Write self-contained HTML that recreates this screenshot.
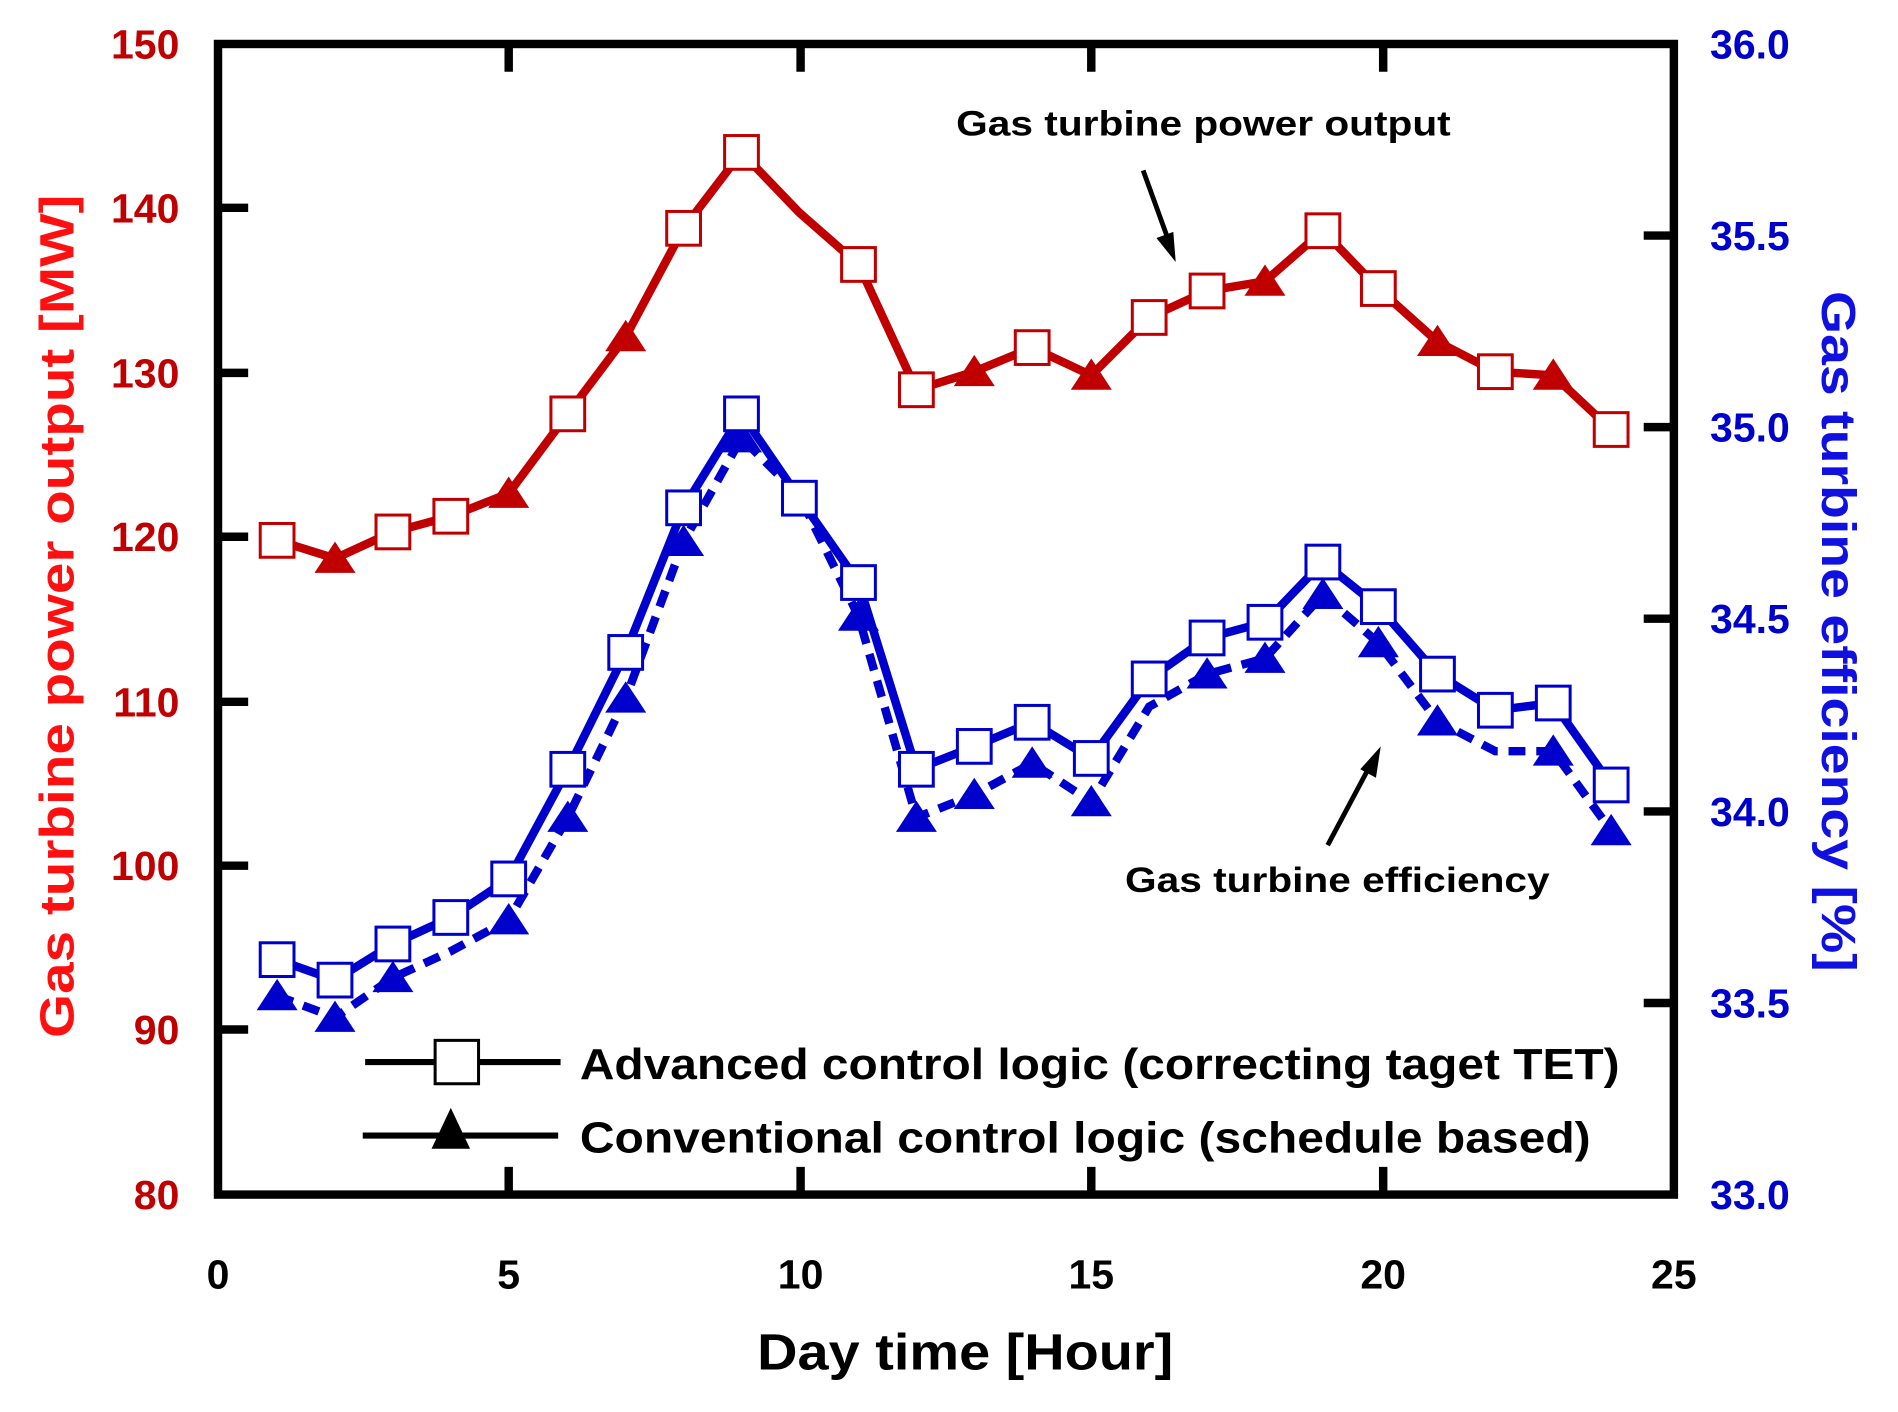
<!DOCTYPE html>
<html><head><meta charset="utf-8"><style>
html,body{margin:0;padding:0;background:#fff;}
svg{display:block;}
text{font-family:"Liberation Sans Narrow","Liberation Sans",sans-serif;font-weight:bold;}
</style></head><body>
<svg width="1898" height="1412" viewBox="0 0 1554 1156" preserveAspectRatio="none" xmlns="http://www.w3.org/2000/svg">
<rect width="1554" height="1156" fill="#fff"/>
<g transform="translate(2.71,1.48) scale(0.98757,0.98639)">
<rect x="178" y="35" width="1207" height="955" fill="none" stroke="#000" stroke-width="7"/>
<g stroke="#000" stroke-width="7">
<line x1="178" y1="171" x2="203" y2="171"/><line x1="178" y1="308" x2="203" y2="308"/>
<line x1="178" y1="444" x2="203" y2="444"/><line x1="178" y1="581" x2="203" y2="581"/>
<line x1="178" y1="717" x2="203" y2="717"/><line x1="178" y1="853" x2="203" y2="853"/>
<line x1="1360" y1="194" x2="1385" y2="194"/><line x1="1360" y1="353" x2="1385" y2="353"/>
<line x1="1360" y1="512" x2="1385" y2="512"/><line x1="1360" y1="672" x2="1385" y2="672"/>
<line x1="1360" y1="831" x2="1385" y2="831"/>
<line x1="419" y1="35" x2="419" y2="58"/><line x1="661" y1="35" x2="661" y2="58"/>
<line x1="902" y1="35" x2="902" y2="58"/><line x1="1144" y1="35" x2="1144" y2="58"/>
<line x1="419" y1="990" x2="419" y2="967"/><line x1="661" y1="990" x2="661" y2="967"/>
<line x1="902" y1="990" x2="902" y2="967"/><line x1="1144" y1="990" x2="1144" y2="967"/>
</g>
<g fill="#c00000" font-size="34" text-anchor="end">
<text x="146" y="47">150</text><text x="146" y="183">140</text><text x="146" y="320">130</text>
<text x="146" y="456">120</text><text x="146" y="593">110</text><text x="146" y="729">100</text>
<text x="146" y="865">90</text><text x="146" y="1002">80</text>
</g>
<g fill="#0000cc" font-size="34">
<text x="1415" y="47">36.0</text><text x="1415" y="206">35.5</text><text x="1415" y="365">35.0</text>
<text x="1415" y="524">34.5</text><text x="1415" y="684">34.0</text><text x="1415" y="843">33.5</text>
<text x="1415" y="1002">33.0</text>
</g>
<g fill="#000" font-size="34" text-anchor="middle">
<text x="178" y="1068">0</text><text x="419" y="1068">5</text><text x="661" y="1068">10</text>
<text x="902" y="1068">15</text><text x="1144" y="1068">20</text><text x="1385" y="1068">25</text>
</g>
<text x="625" y="1135" font-size="42" fill="#000" textLength="345" lengthAdjust="spacingAndGlyphs">Day time [Hour]</text>
<text transform="translate(58,860) rotate(-90)" font-size="40" fill="#ff1010" textLength="700" lengthAdjust="spacingAndGlyphs" style="font-family:'Liberation Sans',sans-serif">Gas turbine power output [MW]</text>
<text transform="translate(1508,240) rotate(90)" font-size="40" fill="#1010e0" textLength="565" lengthAdjust="spacingAndGlyphs" style="font-family:'Liberation Sans',sans-serif">Gas turbine efficiency [%]</text>

<polyline fill="none" stroke="#c00000" stroke-width="7" points="227,447 275,462 323,440 371,427 419,408 468,342 516,278 564,188 612,125 660,175 709,218 757,322 805,307 853,287 902,310 950,262 998,240 1046,232 1094,190 1140,238 1189,282 1237,307 1285,310 1333,355"/>
<polyline fill="none" stroke="#0000cc" stroke-width="7" points="227,795 275,812 323,782 371,760 419,728 468,637 516,540 564,420 612,342 660,412 709,482 757,637 805,618 853,598 902,628 950,562 998,528 1046,515 1094,465 1140,502 1189,558 1237,588 1285,582 1333,650"/>
<polyline fill="none" stroke="#0000cc" stroke-width="7" stroke-dasharray="14,9" points="227,825 275,843 323,810 371,788 419,762 468,677 516,578 564,448 612,362 660,410 709,510 757,677 805,658 853,632 902,664 950,585 998,558 1046,545 1094,492 1140,532 1189,597 1237,622 1285,622 1333,688"/>

<g fill="#fff" stroke="#c00000" stroke-width="2.5">
<rect x="213" y="433" width="28" height="28"/><rect x="309" y="426" width="28" height="28"/><rect x="357" y="413" width="28" height="28"/>
<rect x="454" y="328" width="28" height="28"/><rect x="550" y="174" width="28" height="28"/><rect x="598" y="111" width="28" height="28"/>
<rect x="695" y="204" width="28" height="28"/><rect x="743" y="308" width="28" height="28"/><rect x="839" y="273" width="28" height="28"/>
<rect x="936" y="248" width="28" height="28"/><rect x="984" y="226" width="28" height="28"/><rect x="1080" y="176" width="28" height="28"/>
<rect x="1126" y="224" width="28" height="28"/><rect x="1223" y="293" width="28" height="28"/><rect x="1319" y="341" width="28" height="28"/>
</g>
<g fill="#c00000">
<path d="M275,448 l17,26 h-34z"/><path d="M419,394 l17,26 h-34z"/><path d="M516,264 l17,26 h-34z"/>
<path d="M805,293 l17,26 h-34z"/><path d="M902,296 l17,26 h-34z"/><path d="M1046,218 l17,26 h-34z"/>
<path d="M1189,268 l17,26 h-34z"/><path d="M1285,296 l17,26 h-34z"/>
</g>
<g fill="#0000cc">
<path d="M227,811 l17,26 h-34z"/><path d="M275,829 l17,26 h-34z"/><path d="M323,796 l17,26 h-34z"/>
<path d="M419,748 l17,26 h-34z"/><path d="M468,663 l17,26 h-34z"/><path d="M516,564 l17,26 h-34z"/>
<path d="M564,434 l17,26 h-34z"/><path d="M612,348 l17,26 h-34z"/><path d="M709,496 l17,26 h-34z"/>
<path d="M757,663 l17,26 h-34z"/><path d="M805,644 l17,26 h-34z"/><path d="M853,618 l17,26 h-34z"/>
<path d="M902,650 l17,26 h-34z"/><path d="M998,544 l17,26 h-34z"/><path d="M1046,531 l17,26 h-34z"/>
<path d="M1094,478 l17,26 h-34z"/><path d="M1140,518 l17,26 h-34z"/><path d="M1189,583 l17,26 h-34z"/>
<path d="M1285,608 l17,26 h-34z"/><path d="M1333,674 l17,26 h-34z"/>
</g>
<g fill="#fff" stroke="#0000cc" stroke-width="2.5">
<rect x="213" y="781" width="28" height="28"/><rect x="261" y="798" width="28" height="28"/><rect x="309" y="768" width="28" height="28"/>
<rect x="357" y="746" width="28" height="28"/><rect x="405" y="714" width="28" height="28"/><rect x="454" y="623" width="28" height="28"/>
<rect x="502" y="526" width="28" height="28"/><rect x="550" y="406" width="28" height="28"/><rect x="598" y="328" width="28" height="28"/>
<rect x="646" y="398" width="28" height="28"/><rect x="695" y="468" width="28" height="28"/><rect x="743" y="623" width="28" height="28"/>
<rect x="791" y="604" width="28" height="28"/><rect x="839" y="584" width="28" height="28"/><rect x="888" y="614" width="28" height="28"/>
<rect x="936" y="548" width="28" height="28"/><rect x="984" y="514" width="28" height="28"/><rect x="1032" y="501" width="28" height="28"/>
<rect x="1080" y="451" width="28" height="28"/><rect x="1126" y="488" width="28" height="28"/><rect x="1175" y="544" width="28" height="28"/>
<rect x="1223" y="574" width="28" height="28"/><rect x="1271" y="568" width="28" height="28"/><rect x="1319" y="636" width="28" height="28"/>
</g>

<text x="790" y="111" font-size="29" fill="#000" textLength="410" lengthAdjust="spacingAndGlyphs">Gas turbine power output</text>
<line x1="945" y1="140" x2="966" y2="198" stroke="#000" stroke-width="4"/>
<path d="M972,216 l-16,-20 l14,-5z" fill="#000"/>
<text x="930" y="739" font-size="29" fill="#000" textLength="352" lengthAdjust="spacingAndGlyphs">Gas turbine efficiency</text>
<line x1="1098" y1="700" x2="1132" y2="636" stroke="#000" stroke-width="4"/>
<path d="M1142,618 l-4,26 l-13,-7z" fill="#000"/>

<line x1="300" y1="880" x2="462" y2="880" stroke="#000" stroke-width="5"/>
<rect x="358" y="862" width="36" height="36" fill="#fff" stroke="#000" stroke-width="2.5"/>
<text x="478" y="894" font-size="36" fill="#000" textLength="862" lengthAdjust="spacingAndGlyphs">Advanced control logic (correcting taget TET)</text>
<line x1="298" y1="941" x2="460" y2="941" stroke="#000" stroke-width="5"/>
<path d="M371,918 l16,34 h-32z" fill="#000"/>
<text x="478" y="955" font-size="36" fill="#000" textLength="838" lengthAdjust="spacingAndGlyphs">Conventional control logic (schedule based)</text>
</g>
</svg>
</body></html>
